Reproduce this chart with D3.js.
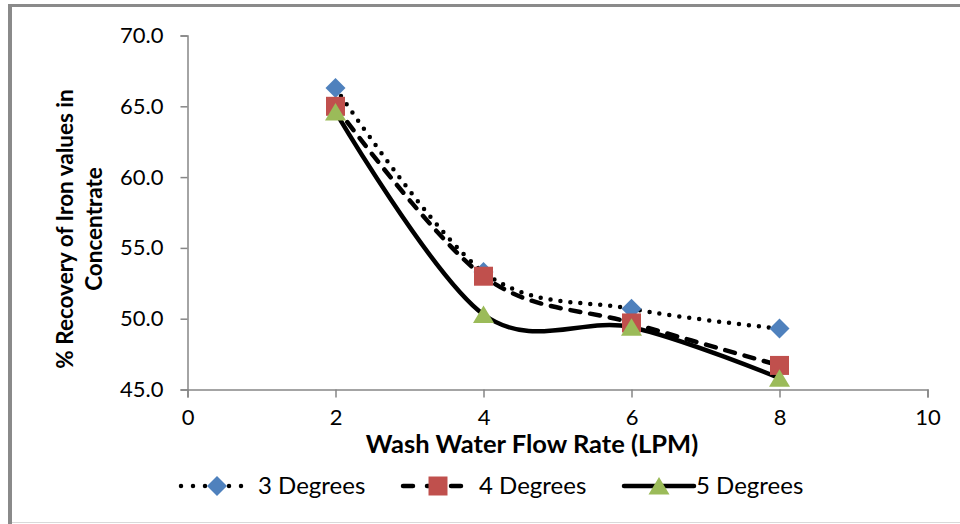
<!DOCTYPE html>
<html>
<head>
<meta charset="utf-8">
<script src="https://cdn.jsdelivr.net/npm/d3@7"></script>
<style>
  html, body { margin: 0; padding: 0; background: #fff; }
  svg { display: block; }
  text { font-family: Lato, "Open Sans", sans-serif; fill: #000; }
</style>
</head>
<body>
<svg id="chart" width="960" height="524"></svg>
<script>
// Wash water flow rate (LPM) on the x axis
const flowRates = [2, 4, 6, 8];
// % recovery of iron values for each inclination
const recovery3Deg = [66.3, 53.3, 50.7, 49.3];
const recovery4Deg = [65.0, 53.0, 49.7, 46.7];
const recovery5Deg = [64.6, 50.3, 49.4, 45.8];
const seriesNames = ["3 Degrees", "4 Degrees", "5 Degrees"];
const xTicks = [0, 2, 4, 6, 8, 10];
const yTicks = [45, 50, 55, 60, 65, 70];

const series = [
  { name: seriesNames[0], values: recovery3Deg, marker: "diamond",  color: "#4F81BD", dash: "0 10",  legendDash: "0 12" },
  { name: seriesNames[1], values: recovery4Deg, marker: "square",   color: "#C0504D", dash: "10 10", legendDash: "10 14" },
  { name: seriesNames[2], values: recovery5Deg, marker: "triangle", color: "#9BBB59", dash: null,    legendDash: null }
];

const svg = d3.select("#chart");
const axisColor = "#868686";

// outer frame
svg.append("line").attr("x1", 9).attr("x2", 960).attr("y1", 5.5).attr("y2", 5.5)
  .attr("stroke", "#8a8a8a").attr("stroke-width", 3);
svg.append("line").attr("x1", 10).attr("x2", 10).attr("y1", 4).attr("y2", 524)
  .attr("stroke", "#8a8a8a").attr("stroke-width", 4);
svg.append("line").attr("x1", 12).attr("x2", 960).attr("y1", 522.5).attr("y2", 522.5)
  .attr("stroke", "#d9d9d9").attr("stroke-width", 1);

const x = d3.scaleLinear().domain([0, 10]).range([187.5, 927.5]);
const y = d3.scaleLinear().domain([45, 70]).range([389.5, 35.5]);

// y axis
const yAxis = svg.append("g")
  .attr("transform", `translate(${x(0)},0)`)
  .call(d3.axisLeft(y).tickValues(yTicks).tickSize(7).tickPadding(17).tickFormat(d3.format(".1f")));
yAxis.selectAll("text").attr("font-size", 22).attr("font-family", "Lato");

// x axis
const xAxis = svg.append("g")
  .attr("transform", `translate(0,${y(45)})`)
  .call(d3.axisBottom(x).tickValues(xTicks).tickSizeInner(8).tickSizeOuter(8).tickPadding(12).tickFormat(d3.format("d")));
xAxis.selectAll("text").attr("font-size", 22).attr("font-family", "Lato");

svg.selectAll(".domain, .tick line").attr("stroke", axisColor).attr("stroke-width", 1.5);

// axis titles
svg.append("text")
  .attr("x", 532).attr("y", 453)
  .attr("text-anchor", "middle").attr("font-weight", "bold").attr("font-size", 25.5)
  .text("Wash Water Flow Rate (LPM)");

const yTitle = svg.append("text")
  .attr("transform", "translate(0,229) rotate(-90)")
  .attr("text-anchor", "middle").attr("font-weight", "bold").attr("font-size", 22.5);
yTitle.append("tspan").attr("x", 0).attr("y", 73).text("% Recovery of Iron values in");
yTitle.append("tspan").attr("x", 0).attr("y", 102).text("Concentrate");

// smoothed lines
const line = d3.line()
  .x((d, i) => x(flowRates[i]))
  .y(d => y(d))
  .curve(d3.curveCatmullRom.alpha(0));

const plot = svg.append("g");
series.forEach(s => {
  plot.append("path")
    .datum(s.values)
    .attr("d", line)
    .attr("fill", "none")
    .attr("stroke", "#000")
    .attr("stroke-width", 4.5)
    .attr("stroke-linecap", "round")
    .attr("stroke-linejoin", "round")
    .attr("stroke-dasharray", s.dash);
});

function markerPath(type) {
  if (type === "diamond") return "M0,-10L10,0L0,10L-10,0Z";
  if (type === "square") return "M-9.5,-9.5H9.5V9.5H-9.5Z";
  return "M0,-9L10.5,8.5H-10.5Z";
}

series.forEach(s => {
  plot.selectAll(null)
    .data(s.values)
    .join("path")
    .attr("transform", (d, i) => `translate(${x(flowRates[i])},${y(d)})`)
    .attr("d", markerPath(s.marker))
    .attr("fill", s.color);
});

// legend
const legendItems = [
  { lx1: 181, lx2: 247, mx: 217, tx: 258 },
  { lx1: 403, lx2: 468, mx: 438, tx: 479 },
  { lx1: 624, lx2: 694, mx: 659, tx: 696 }
];
const legendY = 486;
series.forEach((s, k) => {
  const p = legendItems[k];
  const g = svg.append("g");
  g.append("line")
    .attr("x1", p.lx1).attr("x2", p.lx2).attr("y1", legendY).attr("y2", legendY)
    .attr("stroke", "#000").attr("stroke-width", 4.5)
    .attr("stroke-linecap", "round")
    .attr("stroke-dasharray", s.legendDash);
  g.append("path")
    .attr("transform", `translate(${p.mx},${legendY})`)
    .attr("d", markerPath(s.marker))
    .attr("fill", s.color);
  g.append("text")
    .attr("x", p.tx).attr("y", legendY + 8)
    .attr("font-size", 24)
    .text(s.name);
});
</script>
</body>
</html>
